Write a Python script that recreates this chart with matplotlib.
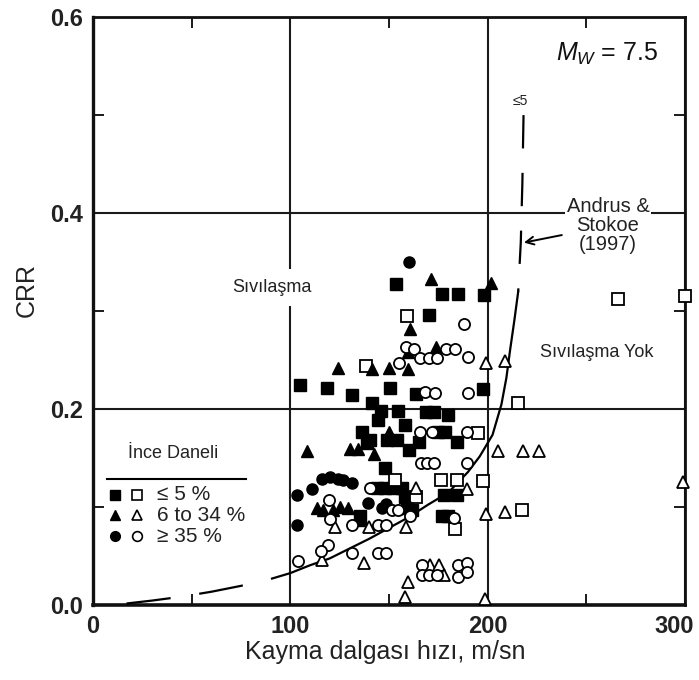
import matplotlib
matplotlib.use("Agg")
import matplotlib.pyplot as plt
from matplotlib.ticker import MultipleLocator, FormatStrFormatter
from matplotlib.transforms import ScaledTranslation

plt.rcParams["font.family"] = ["Liberation Sans", "DejaVu Sans"]
plt.rcParams["mathtext.fontset"] = "custom"
plt.rcParams["mathtext.rm"] = "Liberation Sans"
plt.rcParams["mathtext.it"] = "Liberation Sans:italic"

# --- field data: shear-wave velocity (m/s) vs cyclic resistance ratio ---
# fines content <= 5 %
vs_sq_fill = [153.6, 176.7, 185.2, 198.2, 170.3, 105.1, 118.4, 131.3, 150.5, 163.7,
              197.8, 141.3, 146.0, 154.5, 169.0, 173.0, 180.0, 144.6, 158.1, 136.2,
              175.0, 178.4, 140.4, 148.8, 153.9, 184.3, 165.0, 138.7, 160.0, 148.0,
              143.8, 148.0, 152.2, 156.4, 177.7, 184.3, 158.1, 159.0, 161.5, 135.3,
              176.7, 180.1]
crr_sq_fill = [0.328, 0.318, 0.318, 0.317, 0.296, 0.225, 0.222, 0.215, 0.222, 0.216,
               0.221, 0.206, 0.198, 0.198, 0.197, 0.197, 0.194, 0.189, 0.184, 0.177,
               0.177, 0.177, 0.169, 0.169, 0.169, 0.167, 0.167, 0.166, 0.159, 0.140,
               0.120, 0.120, 0.120, 0.120, 0.113, 0.113, 0.111, 0.099, 0.097, 0.091,
               0.091, 0.091]
vs_sq_open = [159.3, 266.0, 300.0, 138.4, 215.6, 195.3, 153.1, 176.5, 184.3, 197.6,
              163.9, 183.5, 217.3]
crr_sq_open = [0.295, 0.312, 0.316, 0.244, 0.206, 0.176, 0.128, 0.128, 0.128, 0.127,
               0.111, 0.078, 0.097]

# fines content 6 to 34 %
vs_tri_fill = [171.1, 201.6, 160.7, 159.8, 173.7, 150.0, 159.5, 124.0, 141.3, 150.2,
               130.3, 134.5, 142.3, 108.4, 113.4, 116.5, 121.8, 125.2, 129.4, 136.2]
crr_tri_fill = [0.333, 0.329, 0.282, 0.258, 0.264, 0.242, 0.241, 0.242, 0.241, 0.177,
                0.160, 0.160, 0.154, 0.158, 0.099, 0.097, 0.097, 0.100, 0.099, 0.087]
vs_tri_open = [199.0, 209.0, 205.4, 218.1, 226.2, 163.7, 189.4, 199.2, 208.6, 122.5,
               139.8, 158.6, 116.2, 137.5, 170.8, 175.5, 178.0, 159.8, 158.0, 198.8,
               299.2]
crr_tri_open = [0.247, 0.249, 0.158, 0.157, 0.157, 0.120, 0.119, 0.093, 0.095, 0.080,
                0.080, 0.080, 0.046, 0.043, 0.041, 0.041, 0.031, 0.024, 0.009, 0.007,
                0.126]

# fines content >= 35 %
vs_cir_fill = [160.2, 103.5, 110.8, 116.3, 120.2, 124.4, 126.9, 131.1, 139.5, 148.5,
               146.3, 159.0, 103.6]
crr_cir_fill = [0.350, 0.113, 0.119, 0.129, 0.131, 0.129, 0.128, 0.125, 0.104, 0.103,
                0.099, 0.101, 0.082]
vs_cir_open = [188.0, 158.6, 162.7, 178.9, 183.5, 165.7, 170.4, 174.2, 189.9, 155.2,
               168.3, 173.3, 189.9, 165.7, 171.6, 189.6, 166.0, 169.5, 173.0, 189.4,
               140.4, 119.5, 151.4, 154.7, 160.7, 182.9, 120.1, 131.1, 144.2, 148.4,
               119.3, 115.5, 104.0, 131.1, 144.2, 148.4, 166.6, 185.2, 189.4, 166.6,
               170.3, 174.3, 185.2, 189.4]
crr_cir_open = [0.287, 0.264, 0.261, 0.261, 0.261, 0.252, 0.252, 0.252, 0.253, 0.247,
                0.218, 0.217, 0.217, 0.177, 0.177, 0.177, 0.145, 0.145, 0.145, 0.145,
                0.120, 0.108, 0.097, 0.097, 0.091, 0.089, 0.088, 0.082, 0.082, 0.082,
                0.062, 0.056, 0.045, 0.054, 0.053, 0.053, 0.041, 0.041, 0.043, 0.031,
                0.031, 0.031, 0.029, 0.034]

# Andrus & Stokoe (1997) boundary curve, fines <= 5 %
vs_curve_low = [17, 30, 45, 60, 75, 90, 100]
crr_curve_low = [0.002, 0.005, 0.009, 0.014, 0.020, 0.027, 0.033]
vs_curve_mid = [100, 110, 120, 130, 140, 150, 160, 170, 180, 190, 196, 202.5, 207,
                209.5, 211.5, 213.5, 215.5]
crr_curve_mid = [0.033, 0.041, 0.048, 0.058, 0.068, 0.079, 0.090, 0.103, 0.115, 0.136,
                 0.152, 0.174, 0.205, 0.232, 0.262, 0.290, 0.320]
vs_curve_top = [218.2, 217.6, 216.8, 215.5]
crr_curve_top = [0.500, 0.430, 0.370, 0.320]

fig = plt.figure(figsize=(6.99, 6.80), dpi=100)
ax = fig.add_axes([0.1330, 0.1096, 0.8469, 0.8654])

ax.set_xlim(0, 300)
ax.set_ylim(0, 0.6)
ax.xaxis.set_major_locator(MultipleLocator(100))
ax.yaxis.set_major_locator(MultipleLocator(0.2))
ax.xaxis.set_minor_locator(MultipleLocator(50))
ax.yaxis.set_minor_locator(MultipleLocator(0.1))
ax.yaxis.set_major_formatter(FormatStrFormatter("%.1f"))
ax.grid(True, which="major", color="#1a1a1a", lw=1.5, zorder=1)
ax.set_axisbelow(True)
ax.tick_params(which="major", length=0, pad=7, labelsize=17)
ax.tick_params(which="minor", direction="in", length=8, width=1.4,
               top=True, right=True, color="#1a1a1a")
for side, w in (("left", 2.4), ("bottom", 2.6), ("right", 2.0), ("top", 2.0)):
    ax.spines[side].set_linewidth(w)
    ax.spines[side].set_color("#111111")

ax.set_xlabel("Kayma dalgası hızı, m/sn", fontsize=18, color="#222222")
ax.set_ylabel("CRR", fontsize=18, color="#222222")
ax.xaxis.set_label_coords(0.493, -0.058)
ax.yaxis.set_label_coords(-0.092, 0.536)

# boundary curve
ax.plot(vs_curve_low, crr_curve_low, color="black", lw=1.6,
        dashes=(20, 13), zorder=3)
ax.plot(vs_curve_mid, crr_curve_mid, color="black", lw=1.6, zorder=3)
ax.plot(vs_curve_top, crr_curve_top, color="black", lw=1.6,
        dashes=(15, 11), zorder=3)

ms = 8
ew = 1.3
ax.plot(vs_sq_fill, crr_sq_fill, "s", ms=ms, color="black", ls="none", zorder=4)
ax.plot(vs_sq_open, crr_sq_open, "s", ms=ms, mfc="white", mec="black", mew=ew,
        ls="none", zorder=4, clip_on=False)
ax.plot(vs_tri_fill, crr_tri_fill, "^", ms=ms + 1, color="black", ls="none", zorder=4)
ax.plot(vs_tri_open, crr_tri_open, "^", ms=ms + 1, mfc="white", mec="black", mew=ew,
        ls="none", zorder=4, clip_on=False)
ax.plot(vs_cir_fill, crr_cir_fill, "o", ms=ms, color="black", ls="none", zorder=4)
ax.plot(vs_cir_open, crr_cir_open, "o", ms=ms, mfc="white", mec="black", mew=ew,
        ls="none", zorder=4)

# region labels
ax.text(90.6, 0.324, "Sıvılaşma", fontsize=13, ha="center", va="center",
        color="#222222", zorder=5,
        bbox=dict(fc="white", ec="none", pad=7))
ax.text(255.3, 0.258, "Sıvılaşma Yok", fontsize=13, ha="center", va="center",
        color="#222222", zorder=5)
ax.text(260.8, 0.562, r"$M_W$ = 7.5", fontsize=18, ha="center", va="center",
        color="#111111", zorder=5)
ax.text(216.4, 0.514, "≤5", fontsize=10, ha="center", va="center",
        color="#222222", zorder=5)
ax.annotate("Andrus &\nStokoe\n(1997)", xy=(218.4, 0.370), xytext=(261, 0.387),
            fontsize=14.5, ha="center", va="center", color="#222222",
            linespacing=1.0, zorder=5,
            bbox=dict(fc="white", ec="none", pad=1.5),
            arrowprops=dict(arrowstyle="->", color="black", lw=1.4,
                            shrinkA=2, shrinkB=0, mutation_scale=14))

# legend block
T = ax.transAxes
ax.text(0.1357, 0.258, "İnce Daneli", transform=T, fontsize=13,
        ha="center", va="center", color="#222222")
ax.plot([0.023, 0.258], [0.215, 0.215], transform=T, color="black", lw=1.5)
rows = [0.188, 0.153, 0.118]
keys = [("s", "≤ 5 %"), ("^", "6 to 34 %"), ("o", "≥ 35 %")]
for yr, (mk, label) in zip(rows, keys):
    ax.plot([0.0373], [yr], mk, transform=T, ms=7, color="black")
    ax.plot([0.0737], [yr], mk, transform=T, ms=7, mfc="white", mec="black",
            mew=1.2)
    ax.text(0.1077, yr, label, transform=T, fontsize=15, ha="left",
            va="center", color="#222222")

# bold tick labels; nudge the last x label so it stays inside the canvas
fig.canvas.draw()
for lab in ax.get_xticklabels() + ax.get_yticklabels():
    lab.set_fontweight("bold")
    lab.set_color("#222222")
last_tick = ax.xaxis.get_major_ticks()[-1]
for tick in ax.xaxis.get_major_ticks():
    if abs(tick.get_loc() - 300) < 1e-6:
        last_tick = tick
last_tick.label1.set_transform(
    last_tick.label1.get_transform()
    + ScaledTranslation(-8 / 72, 0, fig.dpi_scale_trans))

fig.savefig("out.png", dpi=100)
